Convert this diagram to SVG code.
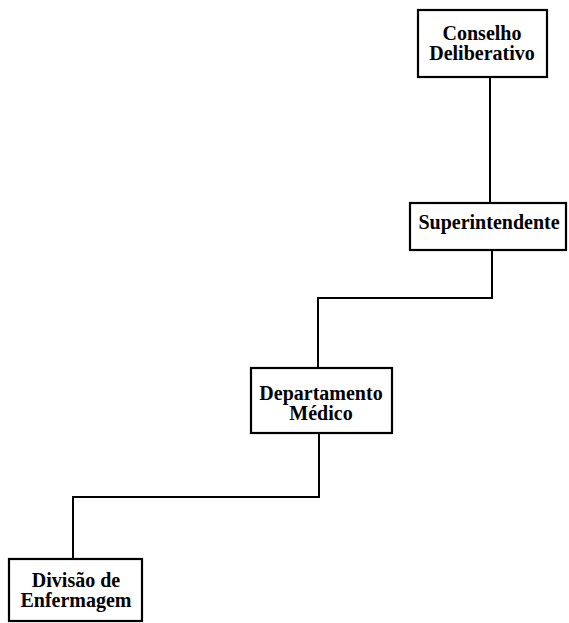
<svg xmlns="http://www.w3.org/2000/svg" width="569" height="623" viewBox="0 0 569 623">
  <style>
    .box { fill: #ffffff; stroke: #000000; stroke-width: 2.2; }
    .wire { fill: none; stroke: #000000; stroke-width: 2; }
    .lbl { font-family: "Liberation Serif", "Times New Roman", serif; font-size: 20px; font-weight: bold; fill: #000000; text-anchor: middle; }
  </style>
  <rect width="569" height="623" fill="#ffffff"/>
  <g id="connectors">
    <path class="wire" d="M490 77 V203"/>
    <path class="wire" d="M492 250 V298 H318 V368"/>
    <path class="wire" d="M319 433 V497 H73 V559"/>
  </g>
  <g id="conselho">
    <rect class="box" x="418" y="10" width="129" height="67"/>
    <text class="lbl" x="482" y="40">Conselho</text>
    <text class="lbl" x="482" y="60">Deliberativo</text>
  </g>
  <g id="superintendente">
    <rect class="box" x="410" y="203" width="156" height="47"/>
    <text class="lbl" x="489" y="229">Superintendente</text>
  </g>
  <g id="departamento">
    <rect class="box" x="251" y="368" width="141" height="65"/>
    <text class="lbl" x="321" y="400">Departamento</text>
    <text class="lbl" x="321" y="420">Médico</text>
  </g>
  <g id="divisao">
    <rect class="box" x="9" y="559" width="133" height="62"/>
    <text class="lbl" x="76" y="587">Divisão de</text>
    <text class="lbl" x="76" y="607">Enfermagem</text>
  </g>
</svg>
